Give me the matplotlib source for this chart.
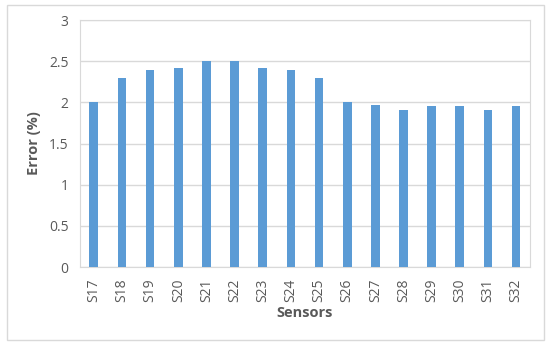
import matplotlib
matplotlib.use('Agg')
import matplotlib.pyplot as plt
from matplotlib.patches import Rectangle

sensors = ['S17', 'S18', 'S19', 'S20', 'S21', 'S22', 'S23', 'S24',
           'S25', 'S26', 'S27', 'S28', 'S29', 'S30', 'S31', 'S32']
errors = [2.0, 2.3, 2.39, 2.42, 2.5, 2.5, 2.42, 2.39,
          2.3, 2.0, 1.97, 1.91, 1.95, 1.95, 1.91, 1.95]
yticks = [0, 0.5, 1, 1.5, 2, 2.5, 3]

plt.rcParams['font.family'] = ['Open Sans', 'DejaVu Sans']
txt = '#595959'

fig = plt.figure(figsize=(5.5, 3.45), dpi=100)
fig.patches.append(Rectangle((0.013, 0.015), 0.976, 0.97, transform=fig.transFigure,
                             fill=False, edgecolor='#D9D9D9', linewidth=1.0))
ax = fig.add_axes([0.145, 0.226, 0.819, 0.716])

x = range(len(sensors))
ax.bar(x, errors, width=0.31, color='#5B9BD5', zorder=3)

ax.set_xlim(-0.5, len(sensors) - 0.5)
ax.set_ylim(0, 3)
ax.set_yticks(yticks)
ax.set_yticklabels([f'{v:g}' for v in yticks])
ax.set_xticks(list(x))
ax.set_xticklabels(sensors, rotation=90)
ax.grid(axis='y', color='#D9D9D9', linewidth=1, zorder=0)
for s in ax.spines.values():
    s.set_color('#D9D9D9')
ax.tick_params(length=0, colors=txt, labelsize=10)
ax.tick_params(axis='y', pad=8)
ax.tick_params(axis='x', pad=8)

ax.set_ylabel('Error (%)', fontsize=10.5, fontweight='bold', color=txt, labelpad=6)
ax.set_xlabel('Sensors', fontsize=10.5, fontweight='bold', color=txt, labelpad=3)

fig.savefig('out.png', dpi=100)
